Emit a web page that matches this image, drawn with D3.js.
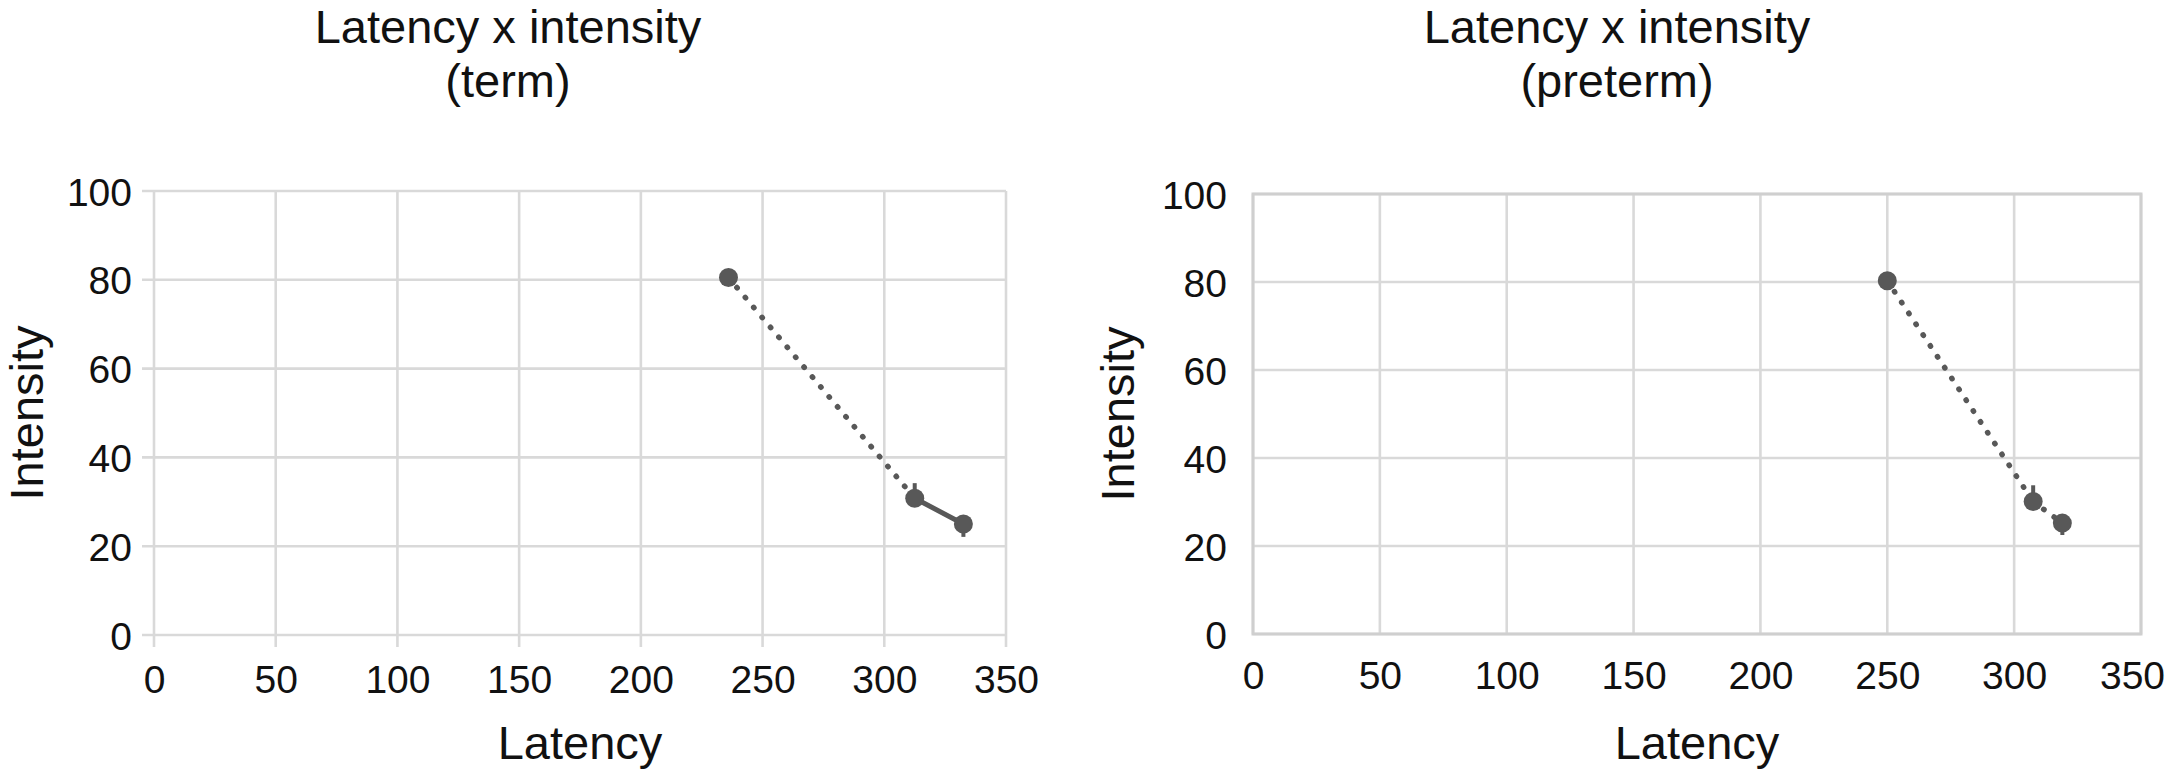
<!DOCTYPE html>
<html>
<head>
<meta charset="utf-8">
<script src="https://cdn.jsdelivr.net/npm/d3@7"></script>
<style>
  body { margin: 0; background: #fff; }
  text { font-family: "Liberation Sans", Arial, Helvetica, sans-serif; fill: #111; }
</style>
</head>
<body>
<svg id="chart" width="2168" height="773"></svg>
<script>
// values
const xTicks = [0, 50, 100, 150, 200, 250, 300, 350];
const yTicks = [0, 20, 40, 60, 80, 100];

const termLatency = [236, 312.5, 332.5];
const termIntensity = [80.5, 30.8, 25];
const termErrUp = [0, 3.4, 0];
const termErrDown = [0, 0, 2.9];

const pretermLatency = [250, 307.5, 319];
const pretermIntensity = [80.3, 30.1, 25.2];
const pretermErrUp = [0, 3.7, 0];
const pretermErrDown = [0, 0, 2.7];

const svg = d3.select('#chart');
const dotColor = '#585858';
const gridColor = '#d9d9d9';

function panel(opts) {
  const x = d3.scaleLinear().domain([0, 350]).range([opts.left, opts.right]);
  const y = d3.scaleLinear().domain([0, 100]).range([opts.bottom, opts.top]);
  const g = svg.append('g');

  // titles
  g.append('text')
    .attr('x', opts.titleX).attr('y', 43)
    .attr('text-anchor', 'middle')
    .style('font-size', '47px')
    .text('Latency x intensity');
  g.append('text')
    .attr('x', opts.titleX).attr('y', 97)
    .attr('text-anchor', 'middle')
    .style('font-size', '47px')
    .text(opts.sub);

  // grid
  g.selectAll('.hgrid')
    .data(yTicks)
    .enter().append('line')
      .attr('x1', opts.left - opts.tick).attr('x2', opts.right)
      .attr('y1', d => y(d)).attr('y2', d => y(d))
      .attr('stroke', gridColor).attr('stroke-width', 2.6);
  g.selectAll('.vgrid')
    .data(xTicks)
    .enter().append('line')
      .attr('x1', d => x(d)).attr('x2', d => x(d))
      .attr('y1', opts.top).attr('y2', opts.bottom + opts.tick)
      .attr('stroke', gridColor).attr('stroke-width', 2.6);

  if (opts.box) {
    g.append('rect')
      .attr('x', opts.left).attr('y', opts.top)
      .attr('width', opts.right - opts.left).attr('height', opts.bottom - opts.top)
      .attr('fill', 'none').attr('stroke', '#cfcfcf').attr('stroke-width', 3);
  }

  // axes (labels only, the lines are drawn above)
  const yAxis = g.append('g')
    .attr('transform', 'translate(' + (opts.left - opts.yGap) + ',0)')
    .call(d3.axisLeft(y).tickValues(yTicks).tickSize(0).tickPadding(0));
  yAxis.select('.domain').remove();
  yAxis.selectAll('text').style('font-size', '39px').attr('dy', '0.36em');

  const xAxis = g.append('g')
    .attr('transform', 'translate(0,' + (opts.bottom + opts.xGap) + ')')
    .call(d3.axisBottom(x).tickValues(xTicks).tickSize(0).tickPadding(0));
  xAxis.select('.domain').remove();
  xAxis.selectAll('text').style('font-size', '39px').attr('dy', '0.71em');
  // last label is nudged in so it stays on the page
  xAxis.selectAll('text').filter(d => d === 350).attr('dx', opts.lastDx);

  // axis titles
  g.append('text')
    .attr('transform', 'translate(' + opts.yLabelX + ',' + ((opts.top + opts.bottom) / 2) + ') rotate(-90)')
    .attr('text-anchor', 'middle')
    .attr('dy', '0.36em')
    .style('font-size', '47px')
    .text('Intensity');
  g.append('text')
    .attr('x', (opts.left + opts.right) / 2).attr('y', 759)
    .attr('text-anchor', 'middle')
    .style('font-size', '47px')
    .text('Latency');

  const pts = opts.lat.map((d, i) => ({
    lat: d, int: opts.int[i], up: opts.up[i], down: opts.down[i]
  }));

  // connecting segments
  for (let i = 0; i < pts.length - 1; i++) {
    const seg = g.append('line')
      .attr('x1', x(pts[i].lat)).attr('y1', y(pts[i].int))
      .attr('x2', x(pts[i + 1].lat)).attr('y2', y(pts[i + 1].int))
      .attr('stroke', dotColor)
      .attr('stroke-linecap', 'round');
    if (opts.solid[i]) {
      seg.attr('stroke-width', 5);
    } else {
      seg.attr('stroke-width', 5.5).attr('stroke-dasharray', '0.5,12.5');
    }
  }

  // small error stubs
  g.selectAll('.err')
    .data(pts.filter(d => d.up > 0 || d.down > 0))
    .enter().append('line')
      .attr('x1', d => x(d.lat)).attr('x2', d => x(d.lat))
      .attr('y1', d => y(d.int + d.up)).attr('y2', d => y(d.int - d.down))
      .attr('stroke', dotColor).attr('stroke-width', 4);

  g.selectAll('.dot')
    .data(pts)
    .enter().append('circle')
      .attr('cx', d => x(d.lat))
      .attr('cy', d => y(d.int))
      .attr('r', 9.5)
      .attr('fill', dotColor);
}

panel({
  left: 154, right: 1006, top: 191, bottom: 635,
  tick: 12, yGap: 22, xGap: 30, box: false, lastDx: 0,
  titleX: 508, sub: '(term)', yLabelX: 26,
  lat: termLatency, int: termIntensity, up: termErrUp, down: termErrDown,
  solid: [false, true]
});

panel({
  left: 1253, right: 2141, top: 194, bottom: 634,
  tick: 0, yGap: 26, xGap: 27, box: true, lastDx: -9,
  titleX: 1617, sub: '(preterm)', yLabelX: 1117,
  lat: pretermLatency, int: pretermIntensity, up: pretermErrUp, down: pretermErrDown,
  solid: [false, false]
});
</script>
</body>
</html>
